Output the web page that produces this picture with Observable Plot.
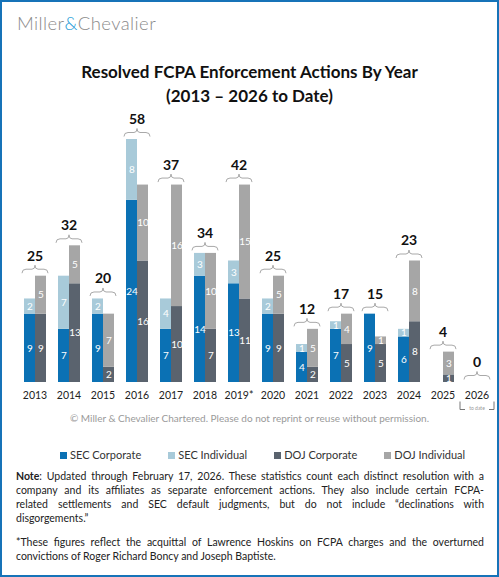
<!DOCTYPE html>
<html>
<head>
<meta charset="utf-8">
<script src="https://cdn.jsdelivr.net/npm/d3@7"></script>
<script src="https://cdn.jsdelivr.net/npm/@observablehq/plot@0.6"></script>
<style>
  body { margin: 0; position: relative; width: 499px; height: 577px; background: #fff; font-family: Lato, "Open Sans", sans-serif; color: #222; }
  .frame { position: absolute; left: 0; top: 0; width: 499px; height: 577px; box-sizing: border-box; border: 2px solid #1673b8; pointer-events: none; }
  .logo { position: absolute; left: 17px; top: 12px; font-size: 18.5px; color: #8a8a8a; letter-spacing: 0.4px; font-weight: 300; }
  .logo span { color: #1a9ad6; }
  .title { position: absolute; left: 0; width: 499px; top: 60px; text-align: center; font-weight: bold; font-size: 17px; line-height: 24px; color: #111; }
  #chart { position: absolute; left: 0; top: 100px; }
  .copy { position: absolute; left: 0; width: 499px; top: 412px; text-align: center; font-size: 10px; color: #9a9a9a; }
  .legend { position: absolute; left: 60px; top: 448px; display: flex; font-size: 11px; line-height: 14px; color: #333; }
  .legend div { display: flex; align-items: center; margin-right: 27px; }
  .legend i { display: inline-block; width: 7px; height: 7px; margin-right: 3px; }
  .notes { position: absolute; left: 16px; width: 468px; top: 469px; font-size: 10.5px; line-height: 14px; color: #222; }
  .notes .j { text-align: justify; text-align-last: justify; }
  .notes .gap { height: 10px; }
</style>
</head>
<body>
<div id="chart"></div>
<div class="logo">Miller<span>&amp;</span>Chevalier</div>
<div class="title">Resolved FCPA Enforcement Actions By Year<br>(2013 – 2026 to Date)</div>
<div class="copy">© Miller &amp; Chevalier Chartered. Please do not reprint or reuse without permission.</div>
<div class="legend" id="legend"></div>
<div class="notes">
  <div class="j"><b>Note</b>: Updated through February 17, 2026. These statistics count each distinct resolution with a</div>
  <div class="j">company and its affiliates as separate enforcement actions. They also include certain FCPA-</div>
  <div class="j">related settlements and SEC default judgments, but do not include “declinations with</div>
  <div>disgorgements.”</div>
  <div class="gap"></div>
  <div class="j">*These figures reflect the acquittal of Lawrence Hoskins on FCPA charges and the overturned</div>
  <div>convictions of Roger Richard Boncy and Joseph Baptiste.</div>
</div>
<div class="frame"></div>
<script>
const years = ["2013", "2014", "2015", "2016", "2017", "2018", "2019*", "2020", "2021", "2022", "2023", "2024", "2025", "2026"];
const secCorporate = [9, 7, 9, 24, 7, 14, 13, 9, 4, 7, 9, 6, 0, 0];
const secIndividual = [2, 7, 2, 8, 4, 3, 3, 2, 1, 1, 0, 1, 0, 0];
const dojCorporate = [9, 13, 2, 16, 10, 7, 11, 9, 2, 5, 5, 8, 1, 0];
const dojIndividual = [5, 5, 7, 10, 16, 10, 15, 5, 5, 4, 1, 8, 3, 0];

const seriesNames = ["SEC Corporate", "SEC Individual", "DOJ Corporate", "DOJ Individual"];
const seriesColors = ["#0b71b4", "#a8cad9", "#5a636e", "#a6a6a6"];

// one row per year / agency / kind
const rows = [];
years.forEach((year, i) => {
  rows.push({ year, agency: "SEC", kind: "Corporate", series: "SEC Corporate", value: secCorporate[i] });
  rows.push({ year, agency: "SEC", kind: "Individual", series: "SEC Individual", value: secIndividual[i] });
  rows.push({ year, agency: "DOJ", kind: "Corporate", series: "DOJ Corporate", value: dojCorporate[i] });
  rows.push({ year, agency: "DOJ", kind: "Individual", series: "DOJ Individual", value: dojIndividual[i] });
});

const totals = years.map((year, i) => ({
  year,
  top: Math.max(secCorporate[i] + secIndividual[i], dojCorporate[i] + dojIndividual[i]),
  total: secCorporate[i] + secIndividual[i] + dojCorporate[i] + dojIndividual[i]
}));

// curly brace drawn as a custom dot symbol
const brace = {
  draw(ctx) {
    ctx.moveTo(-13, 4);
    ctx.quadraticCurveTo(-13, 0, -9, 0);
    ctx.lineTo(-3, 0);
    ctx.quadraticCurveTo(0, 0, 0, -4);
    ctx.quadraticCurveTo(0, 0, 3, 0);
    ctx.lineTo(9, 0);
    ctx.quadraticCurveTo(13, 0, 13, 4);
  }
};
// the small "to date" bracket under 2026
const bracket = {
  draw(ctx) {
    ctx.moveTo(-17, -4);
    ctx.lineTo(-17, 4);
    ctx.lineTo(-12, 4);
    ctx.moveTo(12, 4);
    ctx.lineTo(17, 4);
    ctx.lineTo(17, -4);
  }
};
const toDate = [{ year: "2026", y: 0, label: "to date" }];

const chart = Plot.plot({
  width: 499,
  height: 318,
  marginTop: 39,
  marginBottom: 36,
  marginLeft: 22,
  marginRight: 9.5,
  style: { fontFamily: "Lato, 'Open Sans', sans-serif", fontSize: "10.5px", color: "#222", overflow: "visible" },
  fx: { domain: years, paddingInner: 0.327, paddingOuter: 0, label: null, axis: "bottom", tickSize: 0, tickPadding: 9 },
  x: { domain: ["SEC", "DOJ"], axis: null, padding: 0 },
  y: { domain: [0, 32], axis: null },
  color: { domain: seriesNames, range: seriesColors },
  marks: [
    Plot.barY(rows, { fx: "year", x: "agency", y: "value", fill: "series", z: "kind", inset: 0 }),
    Plot.text(rows, Plot.stackY({
      fx: "year", x: "agency", y: "value", z: "kind",
      text: (d) => (d.value ? String(d.value) : ""),
      fill: "white", fontSize: 10
    })),
    Plot.dot(totals, { fx: "year", y: "top", dy: -7, symbol: brace, fill: "none", stroke: "#a9a9a9", strokeWidth: 1 }),
    Plot.text(totals, { fx: "year", y: "top", dy: -20, text: "total", fontWeight: "bold", fontSize: 14, fill: "#111" }),
    Plot.dot(toDate, { fx: "year", y: "y", dy: 23, r: 5, symbol: bracket, fill: "none", stroke: "#777", strokeWidth: 1 }),
    Plot.text(toDate, { fx: "year", y: "y", dy: 25.5, text: "label", fontSize: 5, fill: "#999" })
  ]
});
document.getElementById("chart").appendChild(chart);

const legend = document.getElementById("legend");
seriesNames.forEach((name, i) => {
  const item = document.createElement("div");
  item.innerHTML = `<i style="background:${seriesColors[i]}"></i>${name}`;
  legend.appendChild(item);
});
</script>
</body>
</html>
